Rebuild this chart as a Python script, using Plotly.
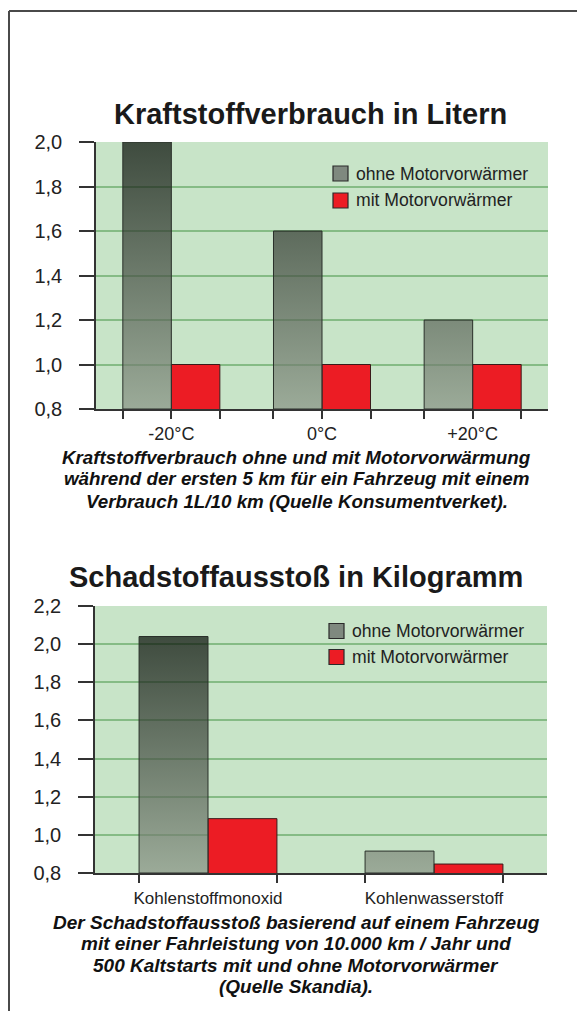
import plotly.graph_objects as go

W, H = 577, 1011

# ---------------- data ----------------
series_names = ["ohne Motorvorwärmer", "mit Motorvorwärmer"]

fuel_title = "Kraftstoffverbrauch in Litern"
fuel_categories = ["-20°C", "0°C", "+20°C"]
fuel_without = [2.0, 1.6, 1.2]
fuel_with = [1.0, 1.0, 1.0]
fuel_yticks = [0.8, 1.0, 1.2, 1.4, 1.6, 1.8, 2.0]
fuel_ytick_labels = ["0,8", "1,0", "1,2", "1,4", "1,6", "1,8", "2,0"]
fuel_caption = [
    "Kraftstoffverbrauch ohne und mit Motorvorwärmung",
    "während der ersten 5 km für ein Fahrzeug mit einem",
    "Verbrauch 1L/10 km (Quelle Konsumentverket).",
]

emis_title = "Schadstoffausstoß in Kilogramm"
emis_categories = ["Kohlenstoffmonoxid", "Kohlenwasserstoff"]
emis_without = [2.04, 0.915]
emis_with = [1.085, 0.847]
emis_yticks = [0.8, 1.0, 1.2, 1.4, 1.6, 1.8, 2.0, 2.2]
emis_ytick_labels = ["0,8", "1,0", "1,2", "1,4", "1,6", "1,8", "2,0", "2,2"]
emis_caption = [
    "Der Schadstoffausstoß basierend auf einem Fahrzeug",
    "mit einer Fahrleistung von 10.000 km / Jahr und",
    "500 Kaltstarts mit und ohne Motorvorwärmer",
    "(Quelle Skandia).",
]

# ---------------- styling ----------------
FONT = "Arial, 'Liberation Sans', Helvetica, sans-serif"
GREEN_BG = "#c8e4c8"
GRID = "rgba(40,130,40,0.42)"
AXIS = "#333333"
RED = "#ec1c24"
GRAD = [[0, "rgba(136,146,132,0.7)"], [1, "rgba(4,10,4,0.7)"]]


def px(x):
    return x / W


def py(y):
    return 1 - y / H


fig = go.Figure()


def add_chart(cats, without, with_, yticks, yticklabels, bw, xa, ya, xa_name, ya_name,
              xdom, ydom, mid_tick, cat_font, cat_standoff):
    n = len(cats)
    idx = list(range(n))
    ymin, ymax = yticks[0], yticks[-1]
    # gradient (semi-transparent) bars for "ohne"
    xs, ys = [], []
    for i, v in zip(idx, without):
        xs += [i - bw, i - bw, i, i, i - bw, None]
        ys += [ymin, v, v, ymin, ymin, None]
    fig.add_trace(go.Scatter(
        x=xs, y=ys, mode="lines", fill="toself", connectgaps=False,
        line=dict(color="#2a302a", width=1),
        fillgradient=dict(type="vertical", colorscale=GRAD, start=ymin, stop=max(without)),
        name=series_names[0], showlegend=False, hoverinfo="skip",
        xaxis=xa, yaxis=ya))
    # red bars for "mit"
    fig.add_trace(go.Bar(
        x=idx, y=with_, offset=0, width=bw,
        marker=dict(color=RED, line=dict(color="#3a1a1a", width=1)),
        name=series_names[1], showlegend=False, hoverinfo="skip",
        xaxis=xa, yaxis=ya))
    edges = []
    for i in idx:
        edges += [i - bw, i + bw]
    fig.layout[xa_name] = dict(
        domain=xdom, range=[-0.5, n - 0.5], anchor=ya, showgrid=False, zeroline=False,
        showline=True, linecolor=AXIS, linewidth=1.5, automargin=False,
        tickvals=idx, ticktext=cats,
        ticks="outside" if mid_tick else "", ticklen=8, tickwidth=1.5, tickcolor=AXIS,
        minor=dict(tickvals=edges, ticks="outside", ticklen=8, tickwidth=1.5,
                   tickcolor=AXIS, showgrid=False),
        tickfont=dict(family=FONT, size=cat_font, color="#222"),
        ticklabelstandoff=cat_standoff, fixedrange=True)
    fig.layout[ya_name] = dict(
        domain=ydom, range=[ymin, ymax], anchor=xa, tickvals=yticks, ticktext=yticklabels,
        ticks="outside", ticklen=15, tickwidth=1.5, tickcolor=AXIS,
        showline=True, linecolor=AXIS, linewidth=1.5, automargin=False,
        showgrid=True, gridcolor=GRID, gridwidth=1.5, zeroline=False,
        tickfont=dict(family=FONT, size=20, color="#222"),
        ticklabelstandoff=13, fixedrange=True)


add_chart(fuel_categories, fuel_without, fuel_with, fuel_yticks, fuel_ytick_labels, 0.322,
          "x", "y", "xaxis", "yaxis",
          [px(96), px(548)], [py(409), py(142)], True, 18, 0)
add_chart(emis_categories, emis_without, emis_with, emis_yticks, emis_ytick_labels, 0.305,
          "x2", "y2", "xaxis2", "yaxis2",
          [px(95), px(547)], [py(873), py(606)], False, 17, 9)

annotations = []
shapes = []


def text(x, y, s, size, anchor="center", bold=False, italic=False, color="#1a1a1a"):
    annotations.append(dict(
        x=px(x), y=py(y), xref="paper", yref="paper", text=s, showarrow=False,
        xanchor=anchor, yanchor="middle",
        font=dict(family=FONT, size=size, color=color,
                  weight="bold" if bold else "normal",
                  style="italic" if italic else "normal")))


# titles
text(310.5, 114, fuel_title, 29, bold=True)
text(296, 577, emis_title, 29, bold=True)

# captions
for k, line in enumerate(fuel_caption):
    text(296.5, 457 + k * 22, line, 18.8, bold=True, italic=True, color="#111")
for k, line in enumerate(emis_caption):
    text(296, 922 + k * 21.5, line, 19, bold=True, italic=True, color="#111")

# legends (swatch + label)
legend_specs = [
    (333, [173.5, 200.5]),
    (329, [631, 657]),
]
swatch_fill = ["#7f897f", RED]
for lx, rows in legend_specs:
    for k, cy in enumerate(rows):
        shapes.append(dict(type="rect", xref="paper", yref="paper",
                           x0=px(lx), x1=px(lx + 15), y0=py(cy + 7.5), y1=py(cy - 7.5),
                           fillcolor=swatch_fill[k], line=dict(color="#2a2a2a", width=1.2)))
        text(lx + 21, cy, series_names[k], 17.6, anchor="left", color="#222")

# page frame
shapes.append(dict(type="line", xref="paper", yref="paper", x0=px(9), x1=1, y0=py(11), y1=py(11),
                   line=dict(color="#4a4a4a", width=2)))
shapes.append(dict(type="line", xref="paper", yref="paper", x0=px(9), x1=px(9), y0=py(11), y1=0,
                   line=dict(color="#4a4a4a", width=2)))

fig.update_layout(
    width=W, height=H, autosize=False,
    margin=dict(l=0, r=0, t=0, b=0, pad=0, autoexpand=False),
    paper_bgcolor="white", plot_bgcolor=GREEN_BG,
    showlegend=False, annotations=annotations, shapes=shapes,
    font=dict(family=FONT),
)

fig.write_html(
    "out.html",
    config={"displayModeBar": False, "responsive": False},
    post_script=(
        "var s=document.documentElement.style;s.margin='0';s.padding='0';"
        "s.height='1011px';s.overflow='hidden';"
        "var b=document.body.style;b.margin='0';b.padding='0';"
        "b.height='1011px';b.overflow='hidden';"
        "var d=document.getElementById('{plot_id}');"
        "d.style.position='fixed';d.style.top='0px';d.style.left='0px';"
    ),
)
